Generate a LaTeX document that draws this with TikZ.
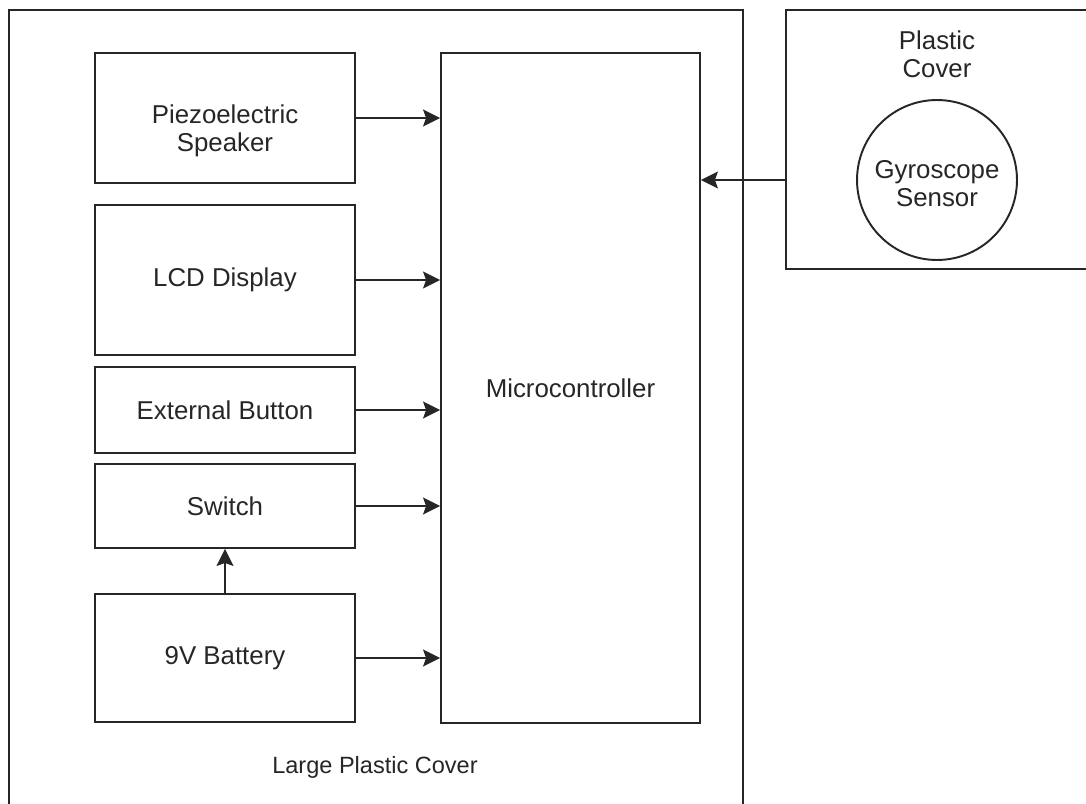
\documentclass[tikz,border=0pt]{standalone}
\usepackage{fontspec}
\setmainfont{Liberation Sans}
\usetikzlibrary{arrows.meta, positioning, shapes.geometric}

\begin{document}
\begin{tikzpicture}[
    x=0.02cm, y=-0.02cm,
    every node/.style={font=\fontsize{14.7pt}{16pt}\selectfont, text=black!85},
    cover/.style={draw, line width=1.1pt, black!85},
    part/.style={draw, line width=1.1pt, black!85, minimum width=5.2cm, align=center, inner sep=0pt},
    link/.style={draw, line width=1.1pt, black!85, -{Stealth[length=3.4mm, width=3.4mm, inset=0.6mm]}},
    label/.style={align=center, inner sep=0pt}
]
\useasboundingbox (0,0) rectangle (1086,804);
\node[cover, minimum width=14.68cm, minimum height=16.04cm] (large) at (376,411) {};
\node[label, font=\fontsize{13.4pt}{16pt}\selectfont] (largelabel) at (375,767) {Large Plastic Cover};
\node[cover, minimum width=6.04cm, minimum height=5.18cm] (small) at (937,139.5) {};
\node[label] (smalllabel) at (937,54) {Plastic\\Cover};
\node[draw, circle, line width=1.1pt, black!85, minimum size=3.2cm, align=center, inner sep=0pt, text height=1.06cm] (gyro) at (937,180) {Gyroscope\\Sensor};

\node[part, minimum height=2.60cm, text height=1.46cm] (piezo) at (225,118) {Piezoelectric\\Speaker};
\node[part, minimum height=3.00cm] (lcd) at (225,280) {LCD Display};
\node[part, minimum height=1.72cm] (button) at (225,410) {External Button};
\node[part, minimum height=1.68cm] (switch) at (225,506) {Switch};
\node[part, minimum height=2.56cm] (battery) at (225,658) {9V Battery};
\node[part, minimum height=13.4cm, minimum width=5.18cm] (micro) at (570.5,388) {Microcontroller};

\draw[link] (piezo) -- (piezo -| micro.west);
\draw[link] (lcd) -- (lcd -| micro.west);
\draw[link] (button) -- (button -| micro.west);
\draw[link] (switch) -- (switch -| micro.west);
\draw[link] (battery) -- (battery -| micro.west);
\draw[link] (battery) -- (switch);
\draw[link] (small.west |- gyro.center) -- (micro.east |- gyro.center);
\end{tikzpicture}
\end{document}
